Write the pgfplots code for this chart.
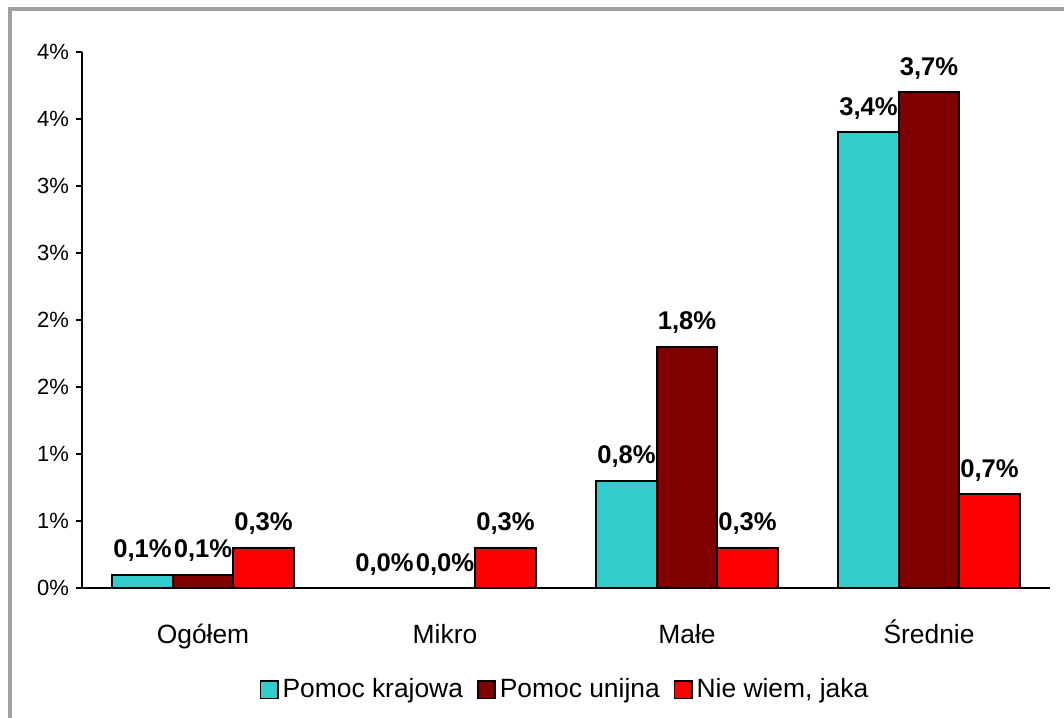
\documentclass[border=0pt]{standalone}
\usepackage{fontspec}
\setmainfont{Liberation Sans}
\usepackage{pgfplots}
\pgfplotsset{compat=1.18}
\definecolor{krajowa}{HTML}{33CCCC}
\definecolor{unijna}{HTML}{800000}
\definecolor{niewiem}{HTML}{FF0000}
\definecolor{ramka}{HTML}{A0A0A0}

\begin{document}
\begin{tikzpicture}
\useasboundingbox (0,0) rectangle (532pt,358.5pt);
\draw[ramka, line width=2pt] (4.75pt,-10pt) -- (4.75pt,353.75pt) -- (545pt,353.75pt);
\begin{axis}[
    at={(41pt,64.5pt)}, anchor=south west,
    scale only axis, width=484pt, height=268pt,
    ybar=0pt, bar width=30.25pt,
    xmin=-0.5, xmax=3.5, ymin=0, ymax=4,
    xtick={0,1,2,3}, xticklabels={Ogółem,Mikro,Małe,Średnie},
    x tick style={draw=none},
    xticklabel style={anchor=base, yshift=-24.5pt, font=\fontsize{13.2}{15}\selectfont},
    ytick={0,0.5,...,4},
    yticklabels={0\%,1\%,1\%,2\%,2\%,3\%,3\%,4\%,4\%},
    yticklabel style={font=\fontsize{11}{13}\selectfont},
    axis x line*=bottom, axis y line*=left,
    axis line style={-, line width=1pt},
    y tick style={line width=1pt, black},
    tick align=outside, major tick length=3pt,
    clip=false,
    /pgf/number format/assume math mode=true,
    nodes near coords={\pgfmathprintnumber[fixed,fixed zerofill,precision=1,use comma]{\pgfplotspointmeta}\%},
    every node near coord/.append style={font=\bfseries\fontsize{12.8}{15}\selectfont, anchor=base, yshift=8.5pt, inner sep=0pt, black},
    legend style={draw=none, at={(0.5,-0.19)}, anchor=center, legend columns=3,
        font=\fontsize{13.2}{15}\selectfont,
        /tikz/every even column/.append style={column sep=5pt}},
    legend image code/.code={\draw[#1, line width=0.8pt] (0pt,-4.3pt) rectangle (8.6pt,4.3pt);},
]
\addplot[fill=krajowa, draw=black, line width=1pt] coordinates {(0,0.1) (1,0.0) (2,0.8) (3,3.4)};
\addplot[fill=unijna, draw=black, line width=1pt] coordinates {(0,0.1) (1,0.0) (2,1.8) (3,3.7)};
\addplot[fill=niewiem, draw=black, line width=1pt] coordinates {(0,0.3) (1,0.3) (2,0.3) (3,0.7)};
\legend{Pomoc krajowa, Pomoc unijna, {Nie wiem, jaka}}
\end{axis}
\end{tikzpicture}
\end{document}
